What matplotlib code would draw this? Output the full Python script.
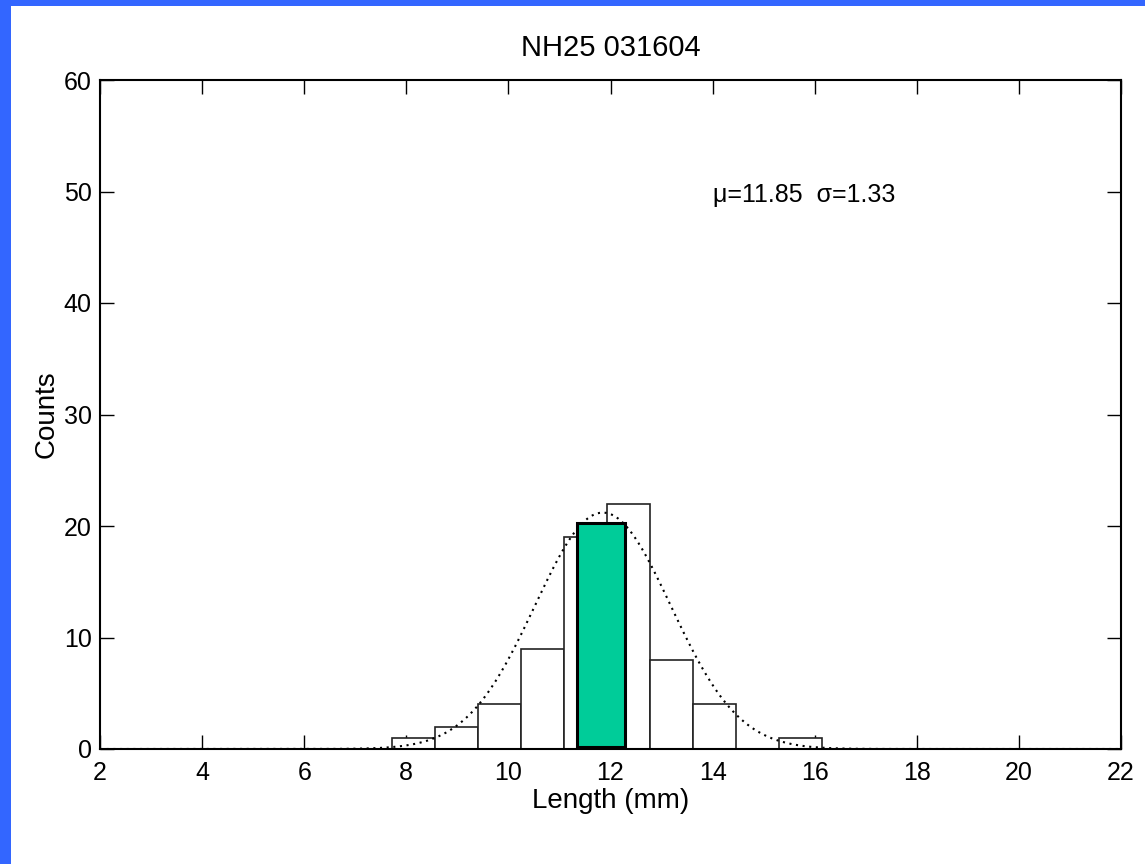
import numpy as np
import matplotlib
matplotlib.use("Agg")
import matplotlib.pyplot as plt
from matplotlib.patches import Rectangle

# ---- data ----
bin_centers = [8.14, 8.98, 9.82, 10.67, 11.51, 12.36, 13.20, 14.04, 14.89, 15.73]
bin_counts = [1, 2, 4, 9, 19, 22, 8, 4, 0, 1]
bin_width = 0.844
fit_mu = 11.85
fit_sigma = 1.33
fit_peak = 21.2
highlight_left = 11.35
highlight_width = 0.94
highlight_bottom = 0.2
highlight_top = 20.3
title_text = "NH25 031604"
stats_text = "\u03bc=11.85  \u03c3=1.33"
x_ticks = [2, 4, 6, 8, 10, 12, 14, 16, 18, 20, 22]
y_ticks = [0, 10, 20, 30, 40, 50, 60]

plt.rcParams['font.family'] = ['Liberation Sans Narrow', 'Liberation Sans', 'DejaVu Sans']

fig = plt.figure(figsize=(11.45, 8.64), dpi=100, facecolor='white')
# blue frame on left and top
fig.patches.append(Rectangle((0, 0), 11/1145, 1, transform=fig.transFigure,
                             facecolor='#3366ff', edgecolor='none', zorder=0))
fig.patches.append(Rectangle((0, 1 - 6/864), 1, 6/864, transform=fig.transFigure,
                             facecolor='#3366ff', edgecolor='none', zorder=0))

ax = fig.add_axes([100/1145, 1 - 749/864, (1121-100)/1145, (749-80)/864])
ax.set_facecolor('white')

ax.bar(bin_centers, bin_counts, width=bin_width, facecolor='white',
       edgecolor='#222222', linewidth=1.2, zorder=2)

xs = np.linspace(x_ticks[0], x_ticks[-1], 600)
ys = fit_peak * np.exp(-0.5 * ((xs - fit_mu) / fit_sigma) ** 2)
ax.plot(xs, ys, color='black', linestyle=(0, (1, 2.2)), linewidth=1.5, zorder=3)

ax.add_patch(Rectangle((highlight_left, highlight_bottom), highlight_width,
                       highlight_top - highlight_bottom, facecolor='#00cc99',
                       edgecolor='black', linewidth=2.2, zorder=4))

ax.set_xlim(x_ticks[0], x_ticks[-1])
ax.set_ylim(y_ticks[0], y_ticks[-1])
ax.set_xticks(x_ticks)
ax.set_yticks(y_ticks)
ax.tick_params(direction='in', length=10, width=1, top=True, right=True,
               labelsize=18)
ax.tick_params(axis='x', pad=9)
ax.tick_params(axis='y', pad=6)
for s in ax.spines.values():
    s.set_linewidth(1.5)
    s.set_zorder(5)

ax.set_title(title_text, fontsize=21, pad=17)
ax.set_xlabel("Length (mm)", fontsize=20, labelpad=2)
ax.set_ylabel("Counts", fontsize=20, labelpad=3)

ax.text(14.0, 49.7, stats_text, fontsize=18, ha='left', va='center')

fig.savefig("out.png", dpi=100, facecolor='white')
